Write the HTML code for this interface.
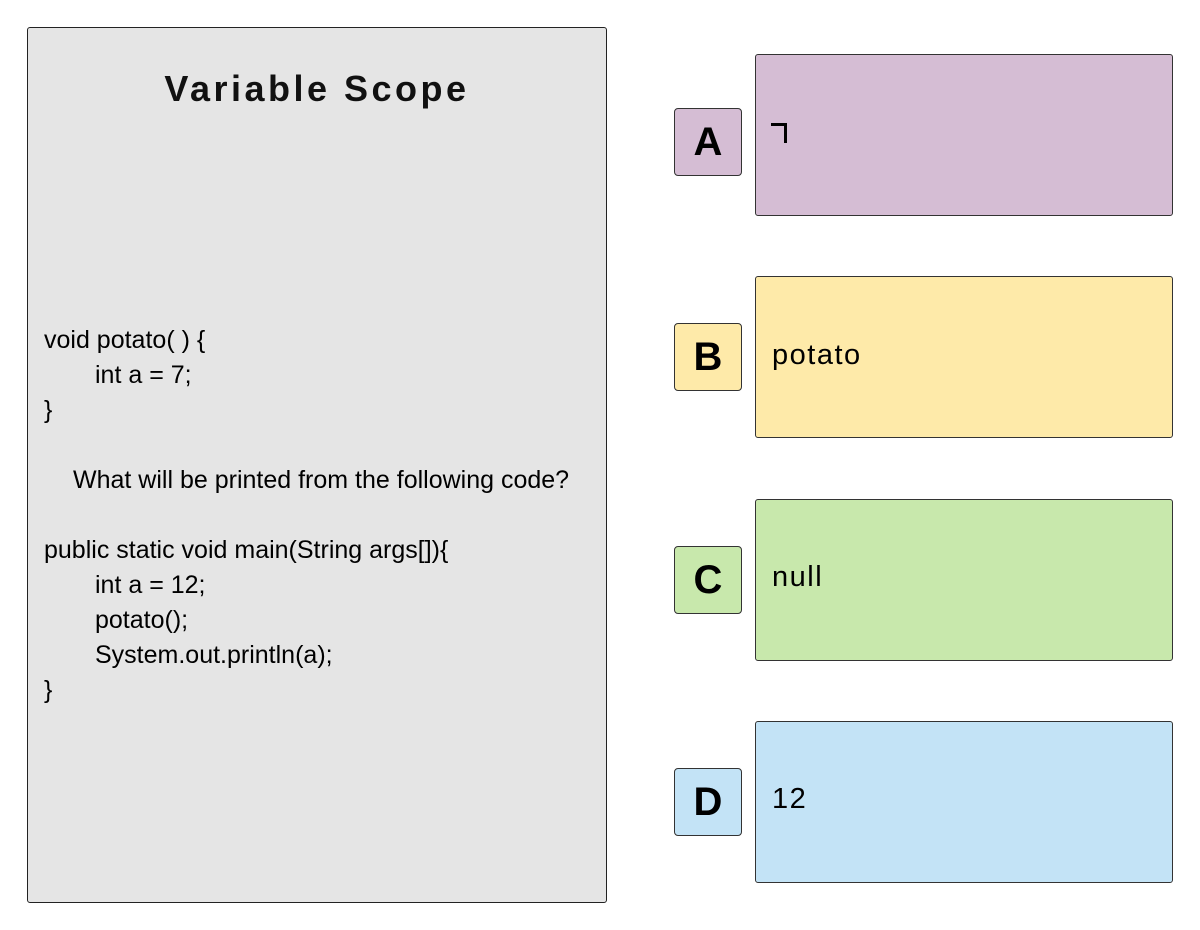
<!DOCTYPE html>
<html><head><meta charset="utf-8"><style>
body{margin:0;width:1200px;height:930px;background:#fff;position:relative;font-family:"Liberation Sans",sans-serif;overflow:hidden}
.panel{position:absolute;left:27px;top:27px;width:580px;height:876px;background:#e5e5e5;border:1px solid #222;border-radius:3px;box-sizing:border-box}
.title{position:absolute;left:27px;width:580px;top:68px;text-align:center;font-size:36px;font-weight:bold;letter-spacing:3.5px;color:#111}
.code{position:absolute;font-size:25px;color:#000;line-height:35px;white-space:pre}
.lb{position:absolute;left:674px;width:68px;height:68px;border:1px solid #333;border-radius:4px;box-sizing:border-box;font-size:40px;font-weight:bold;text-align:center;line-height:66px;color:#000}
.ans{position:absolute;left:755px;width:418px;height:162px;border:1px solid #333;border-radius:3px;box-sizing:border-box}
.at{position:absolute;left:772px;font-size:29px;color:#000;letter-spacing:1.5px}
</style></head><body>
<div class="panel"></div>
<div class="title">Variable Scope</div>
<div class="code" style="left:44px;top:323px">void potato( ) {</div>
<div class="code" style="left:95px;top:358px">int a = 7;</div>
<div class="code" style="left:44px;top:393px">}</div>
<div class="code" style="left:73px;top:463px">What will be printed from the following code?</div>
<div class="code" style="left:44px;top:533px">public static void main(String args[]){</div>
<div class="code" style="left:95px;top:568px">int a = 12;</div>
<div class="code" style="left:95px;top:603px">potato();</div>
<div class="code" style="left:95px;top:638px">System.out.println(a);</div>
<div class="code" style="left:44px;top:673px">}</div>

<div class="ans" style="top:54px;background:#d5bdd4"></div>
<div class="ans" style="top:276px;background:#feeaa9"></div>
<div class="ans" style="top:499px;background:#c8e8ac"></div>
<div class="ans" style="top:721px;background:#c3e3f6"></div>

<div class="lb" style="top:108px;background:#d5bdd4">A</div>
<div class="lb" style="top:323px;background:#feeaa9">B</div>
<div class="lb" style="top:546px;background:#c8e8ac">C</div>
<div class="lb" style="top:768px;background:#c3e3f6">D</div>

<div style="position:absolute;left:771px;top:123px;width:16px;height:20px;border-top:3px solid #000;border-right:3px solid #000;box-sizing:border-box"></div>
<div class="at" style="top:339px">potato</div>
<div class="at" style="top:561px">null</div>
<div class="at" style="top:783px">12</div>
</body></html>
